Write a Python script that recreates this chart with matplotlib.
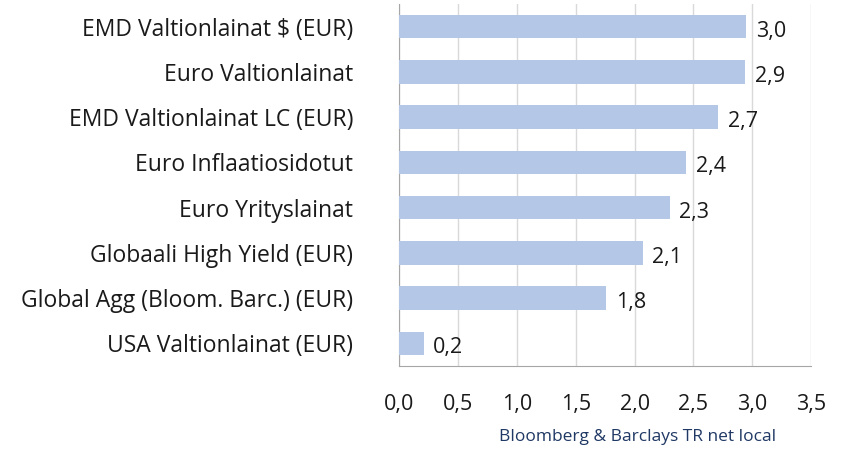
import matplotlib.pyplot as plt
import numpy as np

plt.rcParams['font.family'] = ['Open Sans', 'DejaVu Sans']

categories = ["EMD Valtionlainat $ (EUR)", "Euro Valtionlainat", "EMD Valtionlainat LC (EUR)",
              "Euro Inflaatiosidotut", "Euro Yrityslainat", "Globaali High Yield (EUR)",
              "Global Agg (Bloom. Barc.) (EUR)", "USA Valtionlainat (EUR)"]
values = [2.95, 2.94, 2.71, 2.44, 2.30, 2.07, 1.76, 0.21]
xticks = [0.0, 0.5, 1.0, 1.5, 2.0, 2.5, 3.0, 3.5]
source = "Bloomberg & Barclays TR net local"

fig = plt.figure(figsize=(8.53, 4.49), dpi=100)
ax = fig.add_axes([0.468, 0.185, 0.483, 0.806])

y = np.arange(len(categories))
ax.barh(y, values, height=0.52, color="#B4C7E7", zorder=3)
for yi, v in zip(y, values):
    ax.text(v + 0.08, yi + 0.1, f"{v:.1f}".replace(".", ","), va="center", ha="left",
            fontsize=15.5, color="#1a1a1a")

ax.set_yticks(y)
ax.set_yticklabels(categories, fontsize=16.5, color="#1a1a1a")
ax.set_ylim(len(categories) - 0.5, -0.5)
ax.set_xlim(0, 3.5)
ax.set_xticks(xticks)
ax.set_xticklabels([f"{t:.1f}".replace(".", ",") for t in xticks], fontsize=15.5, color="#1a1a1a")
ax.tick_params(axis="both", length=0)
ax.tick_params(axis="x", pad=20)
ax.tick_params(axis="y", pad=33)
ax.grid(axis="x", color="#D9D9D9", linewidth=1, zorder=0)
for s in ["top", "right"]:
    ax.spines[s].set_visible(False)
for s in ["left", "bottom"]:
    ax.spines[s].set_color("#A6A6A6")

fig.text(0.747, 0.027, source, ha="center", va="center", fontsize=12.5, color="#1F3864")

fig.savefig("out.png", dpi=100)
